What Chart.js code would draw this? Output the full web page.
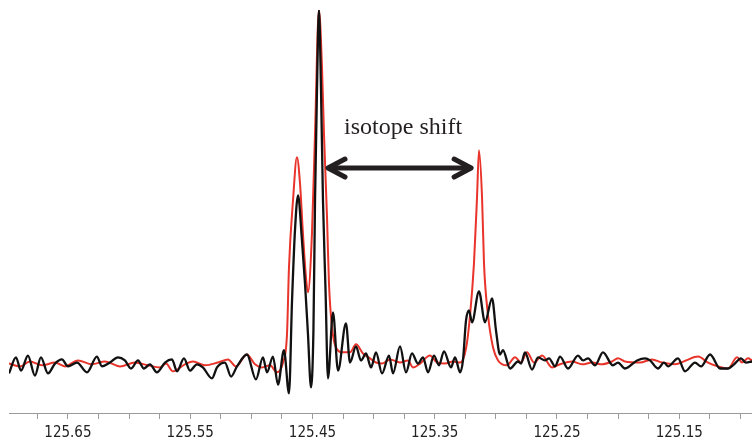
<!DOCTYPE html>
<html>
<head>
<meta charset="utf-8">
<script src="https://cdn.jsdelivr.net/npm/chart.js@4.4.1/dist/chart.umd.min.js"></script>
<style>
  html, body { margin: 0; padding: 0; background: #fff; }
  #wrap { width: 752px; height: 442px; }
</style>
</head>
<body>
<div id="wrap"><canvas id="nmrChart" width="752" height="442"></canvas></div>
<script>
'use strict';

// chemical shift (ppm) and intensity
var blackPpm = [
  125.6982, 125.6925, 125.6884, 125.6827, 125.6770, 125.6721, 125.6663, 125.6606, 125.6549, 125.6500,
  125.6426, 125.6344, 125.6263, 125.6222, 125.6156, 125.6091, 125.6034, 125.5984, 125.5927, 125.5878,
  125.5829, 125.5772, 125.5706, 125.5649, 125.5608, 125.5551, 125.5502, 125.5445, 125.5396, 125.5322,
  125.5281, 125.5216, 125.5166, 125.5117, 125.5036, 125.4962, 125.4905, 125.4872, 125.4823, 125.4782,
  125.4733, 125.4692, 125.4667, 125.4643, 125.4618, 125.4586, 125.4561, 125.4537, 125.4512, 125.4492,
  125.4479, 125.4463, 125.4447, 125.4430, 125.4414, 125.4393, 125.4373, 125.4332, 125.4291, 125.4226,
  125.4193, 125.4144, 125.4103, 125.4062, 125.4021, 125.3980, 125.3931, 125.3874, 125.3841, 125.3784,
  125.3735, 125.3686, 125.3637, 125.3596, 125.3555, 125.3506, 125.3465, 125.3424, 125.3367, 125.3334,
  125.3293, 125.3269, 125.3244, 125.3220, 125.3195, 125.3138, 125.3089, 125.3031, 125.2999, 125.2966,
  125.2942, 125.2884, 125.2819, 125.2794, 125.2762, 125.2704, 125.2655, 125.2598, 125.2565, 125.2516,
  125.2475, 125.2410, 125.2328, 125.2287, 125.2246, 125.2189, 125.2124, 125.2042, 125.2001, 125.1944,
  125.1845, 125.1780, 125.1739, 125.1674, 125.1625, 125.1592, 125.1510, 125.1453, 125.1371, 125.1322,
  125.1248, 125.1166, 125.1101, 125.1052, 125.0995, 125.0954, 125.0905
];
var blackIntensity = [
  -3.7, 0.9, -2.9, 1.4, -4.3, 0.9, -3.7, -0.9, 0.3, -1.7,
  -0.6, -3.4, 1.1, -1.7, -0.6, 0.9, 0, -2.3, 0, -2.3,
  -1.1, -3.4, -0.6, 0.3, -3.1, 0.6, -2.9, -1.1, -2.0, -5.1,
  -2.0, -0.6, -4.6, -1.7, 1.7, -5.4, 0.9, -3.4, 1.1, -6.9,
  2.9, -9.4, 17.1, 37.1, 47.1, 34.3, 22, 7.7, -7.7, 8.6,
  45.7, 77.1, 100, 77.1, 45.7, 20, -5.1, 13.7, -2.9, 10.6,
  -0.6, 4, 0, 2, -2, 2.3, -3.7, 1.4, -3.7, 4,
  -3.4, 2, -0.9, 0.9, -3.4, 1.4, -1.4, 2.6, -2, 0.9,
  -3.4, 0, 11.4, 14.3, 10.9, 19.7, 10.9, 17.7, 8.6, 1.7,
  2.9, -2.3, -0.3, -0.9, 2.3, -2.6, 0.9, 0, 0.6, -1.7,
  1.1, -2.3, 1.4, 0, 0.6, -1.4, 2.3, -1.4, -0.6, -2.3,
  0, 0.6, 0, -2.3, -0.6, -1.7, 0.6, -3.1, -0.6, -1.7,
  1.7, -2.3, -2.3, -1.1, 0.6, -0.6, -0.3
];

var redPpm = [
  125.6982, 125.6892, 125.6811, 125.6712, 125.6606, 125.6524, 125.6418, 125.6303, 125.6197, 125.6074,
  125.5952, 125.5845, 125.5747, 125.5698, 125.5641, 125.5543, 125.5477, 125.5379, 125.5273, 125.5191,
  125.5126, 125.5036, 125.4970, 125.4913, 125.4847, 125.4790, 125.4741, 125.4708, 125.4692, 125.4659,
  125.4627, 125.4602, 125.4578, 125.4553, 125.4537, 125.4504, 125.4479, 125.4447, 125.4422, 125.4406,
  125.4381, 125.4365, 125.4340, 125.4308, 125.4250, 125.4193, 125.4144, 125.4087, 125.4029, 125.3980,
  125.3931, 125.3866, 125.3784, 125.3719, 125.3678, 125.3620, 125.3539, 125.3481, 125.3416, 125.3351,
  125.3293, 125.3244, 125.3211, 125.3179, 125.3154, 125.3138, 125.3113, 125.3097, 125.3064, 125.3023,
  125.2982, 125.2909, 125.2843, 125.2794, 125.2745, 125.2688, 125.2622, 125.2541, 125.2475, 125.2377,
  125.2295, 125.2213, 125.2132, 125.2050, 125.2001, 125.1944, 125.1821, 125.1723, 125.1641, 125.1535,
  125.1445, 125.1346, 125.1265, 125.1183, 125.1101, 125.1027, 125.0986, 125.0937, 125.0905
];
var redIntensity = [
  -0.9, -1.7, -0.3, -1.4, -0.6, -1.7, 0, -1.1, -0.3, -1.7,
  -0.6, -1.4, -2, -0.9, -3.1, -1.1, -0.3, -1.4, -0.6, 0.3,
  -1.7, 1.7, -1.1, -2, -1.4, -3.4, -0.6, 7.7, 26.6, 45.7,
  58, 50.6, 36.3, 23.7, 19.4, 36.3, 64.9, 100, 83.7, 64.9,
  40.9, 22, 9.4, 3.7, 2.3, 2.3, 4.6, 2, 0.6, -0.6,
  -0.9, 0.3, -0.6, 0, -2, -0.9, 1.4, -0.6, -0.9, -0.3,
  -0.6, 3.4, 12.9, 27.7, 46.6, 60, 46.6, 27.7, 12.9, 3.7,
  0, -1.4, 0.9, -0.6, 2.3, -0.6, 1.4, -2, -1.1, -0.3,
  -1.1, -0.6, -1.1, -0.3, 0.6, -0.3, -0.6, 0.3, -0.6, -1.1,
  0, 1.1, -0.6, -1.7, -2.3, 0.9, -0.6, 0.6, 0
];

var tickLabels = [125.65, 125.55, 125.45, 125.35, 125.25, 125.15];

// annotation: label and double arrow between the two isotopomer peaks
var shiftLabel = 'isotope shift';
var shiftFrom = 125.4381, shiftTo = 125.3194, shiftLevel = 54.9;
var labelPpm = 125.3759, labelLevel = 64.6;

function toPoints(xs, ys) {
  return xs.map(function(x, i) { return { x: x, y: ys[i] }; });
}

var isotopeShift = {
  id: 'isotopeShift',
  afterDatasetsDraw: function(chart) {
    var ctx = chart.ctx;
    var xs = chart.scales.x, ys = chart.scales.y;
    var x1 = xs.getPixelForValue(shiftFrom);
    var x2 = xs.getPixelForValue(shiftTo);
    var y = ys.getPixelForValue(shiftLevel);
    ctx.save();
    ctx.strokeStyle = '#231f20';
    ctx.lineWidth = 5;
    ctx.lineCap = 'round';
    ctx.lineJoin = 'round';
    ctx.beginPath();
    ctx.moveTo(x1 + 2, y);
    ctx.lineTo(x2 - 2, y);
    ctx.stroke();
    ctx.beginPath();
    ctx.moveTo(x1 + 18, y - 9);
    ctx.lineTo(x1 + 1, y);
    ctx.lineTo(x1 + 18, y + 9);
    ctx.moveTo(x2 - 18, y - 9);
    ctx.lineTo(x2 - 1, y);
    ctx.lineTo(x2 - 18, y + 9);
    ctx.stroke();

    ctx.fillStyle = '#231f20';
    ctx.font = '24px "Liberation Serif", "Times New Roman", serif';
    ctx.textAlign = 'center';
    ctx.textBaseline = 'alphabetic';
    ctx.fillText(shiftLabel, xs.getPixelForValue(labelPpm), ys.getPixelForValue(labelLevel));
    ctx.restore();
  }
};

new Chart(document.getElementById('nmrChart'), {
  type: 'line',
  data: {
    datasets: [
      {
        label: 'black',
        data: toPoints(blackPpm, blackIntensity),
        borderColor: '#111111',
        borderWidth: 2.3,
        pointRadius: 0,
        cubicInterpolationMode: 'monotone'
      },
      {
        label: 'red',
        data: toPoints(redPpm, redIntensity),
        borderColor: '#e8342a',
        borderWidth: 2,
        pointRadius: 0,
        cubicInterpolationMode: 'monotone'
      }
    ]
  },
  options: {
    responsive: false,
    animation: false,
    layout: { padding: { left: 9, right: 0, top: 10, bottom: 0 } },
    plugins: {
      legend: { display: false },
      tooltip: { enabled: false }
    },
    scales: {
      x: {
        type: 'linear',
        reverse: true,
        min: 125.0905,
        max: 125.6982,
        afterFit: function(scale) { scale.height = 29; },
        border: { display: true, color: '#9b9b9b', width: 1 },
        grid: {
          drawOnChartArea: false,
          drawTicks: true,
          tickLength: 6,
          tickColor: '#9b9b9b'
        },
        ticks: {
          stepSize: 0.025,
          includeBounds: false,
          autoSkip: false,
          maxRotation: 0,
          padding: 7,
          color: '#222222',
          font: { family: '"DejaVu Sans Condensed", "DejaVu Sans", sans-serif', size: 15, lineHeight: 1 },
          callback: function(value) {
            for (var i = 0; i < tickLabels.length; i++) {
              if (Math.abs(value - tickLabels[i]) < 1e-6) return tickLabels[i].toFixed(2);
            }
            return '';
          }
        }
      },
      y: {
        display: false,
        min: -15,
        max: 100
      }
    }
  },
  plugins: [isotopeShift]
});
</script>
</body>
</html>
